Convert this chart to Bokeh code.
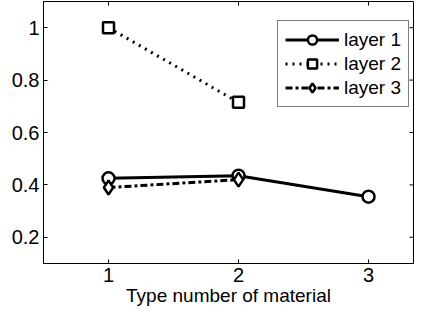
import math
from bokeh.plotting import figure
from bokeh.models import (FixedTicker, CustomJSTickFormatter, Legend, LegendItem, Range1d)
from bokeh.embed import file_html
from bokeh.resources import INLINE

# data
layer1_x = [1, 2, 3]
layer1_y = [0.425, 0.435, 0.355]
layer2_x = [1, 2]
layer2_y = [1.0, 0.715]
layer3_x = [1, 2]
layer3_y = [0.39, 0.42]
x_ticks = [1, 2, 3]
y_ticks = [0.2, 0.4, 0.6, 0.8, 1.0]
x_label = "Type number of material"
names = ["layer 1", "layer 2", "layer 3"]

FONT = "Liberation Sans"
X0, X1 = 0.5, 3.346
Y0, Y1 = 0.1, 1.1

p = figure(width=414, height=309, output_backend="svg", toolbar_location=None,
           x_range=Range1d(X0, X1), y_range=Range1d(Y0, Y1),
           min_border_left=43, min_border_right=1, min_border_top=1, min_border_bottom=46)
p.grid.visible = False
p.outline_line_color = "black"
p.outline_line_width = 1
p.background_fill_color = "white"
p.border_fill_color = "white"

fmt = CustomJSTickFormatter(code="return String(Math.round(tick*10)/10);")

for ax in (p.xaxis[0], p.yaxis[0]):
    ax.major_tick_in = 4
    ax.major_tick_out = 0
    ax.minor_tick_in = 0
    ax.minor_tick_out = 0
    ax.axis_line_color = "black"
    ax.major_tick_line_color = "black"
    ax.major_label_text_font = FONT
    ax.major_label_text_font_size = "20px"
    ax.major_label_text_color = "black"
    ax.formatter = fmt
p.xaxis[0].ticker = FixedTicker(ticks=x_ticks)
p.yaxis[0].ticker = FixedTicker(ticks=y_ticks)
p.xaxis[0].major_label_standoff = 4
p.yaxis[0].major_label_standoff = 4
p.xaxis[0].axis_label = x_label
p.xaxis[0].axis_label_text_font = FONT
p.xaxis[0].axis_label_text_font_size = "19px"
p.xaxis[0].axis_label_text_font_style = "normal"
p.xaxis[0].axis_label_text_color = "black"
p.xaxis[0].axis_label_standoff = 0

# mirrored inward ticks on top and right edges (box on)
p.scatter(x_ticks, [Y1] * len(x_ticks), marker="dash", angle=math.pi / 2, size=8,
          line_color="black", line_width=1)
p.scatter([X1] * len(y_ticks), y_ticks, marker="dash", size=8,
          line_color="black", line_width=1)

lw = 3
l1 = p.line(layer1_x, layer1_y, line_color="black", line_width=lw)
m1 = p.scatter(layer1_x, layer1_y, marker="circle", size=12, line_color="black",
               line_width=2.5, fill_color="white")
l2 = p.line(layer2_x, layer2_y, line_color="black", line_width=lw, line_dash="2 5")
m2 = p.scatter(layer2_x, layer2_y, marker="square", size=11, line_color="black",
               line_width=2.5, fill_color="white")
l3 = p.line(layer3_x, layer3_y, line_color="black", line_width=lw, line_dash="7 3 3 3")
m3 = p.scatter(layer3_x, layer3_y, marker="diamond", size=14, line_color="black",
               line_width=2.5, fill_color="white")

legend = Legend(items=[LegendItem(label=names[0], renderers=[l1, m1]),
                       LegendItem(label=names[1], renderers=[l2, m2]),
                       LegendItem(label=names[2], renderers=[l3, m3])],
                location=(234, 156))
legend.label_text_font = FONT
legend.label_text_font_size = "19px"
legend.label_text_color = "black"
legend.glyph_width = 54
legend.glyph_height = 23
legend.label_height = 23
legend.spacing = 1
legend.padding = 7
legend.margin = 0
legend.label_standoff = 5
legend.border_line_color = "black"
legend.border_line_width = 1
legend.background_fill_alpha = 1
p.add_layout(legend, "center")

open("out.html", "w").write(file_html(p, INLINE))
